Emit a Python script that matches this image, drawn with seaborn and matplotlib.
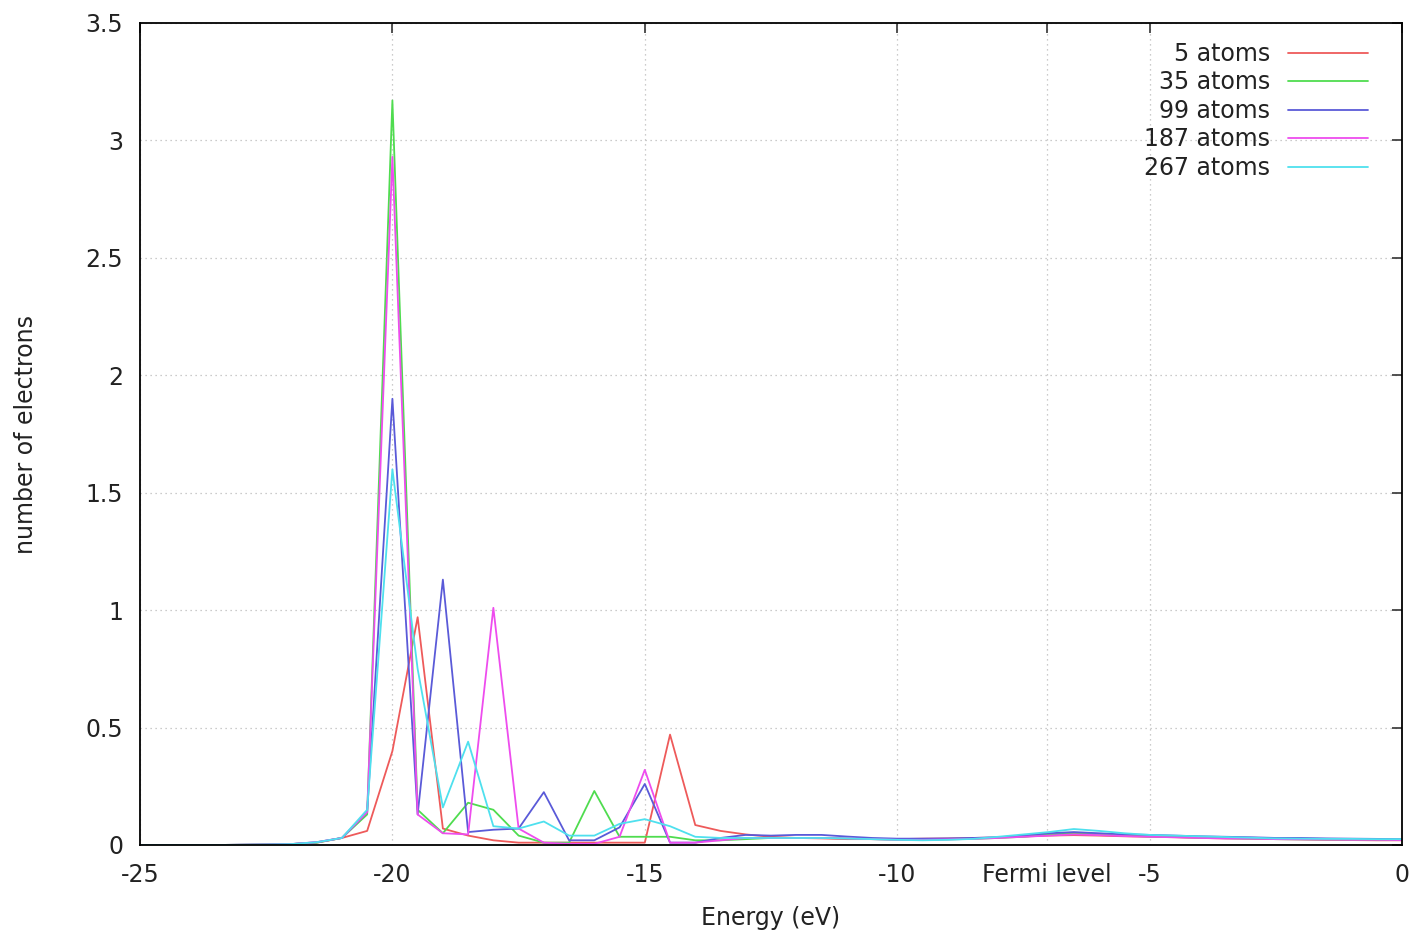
import numpy as np
import pandas as pd
import matplotlib
matplotlib.use("Agg")
import matplotlib.pyplot as plt
import seaborn as sns

# Energy grid (eV), 0.5 eV steps from -25 to 0
energy = np.arange(-25.0, 0.01, 0.5)

atoms5 = [0, 0, 0, 0, 0.001, 0.002, 0.004, 0.01, 0.03, 0.06,
          0.40, 0.97, 0.07, 0.04, 0.02, 0.01, 0.01, 0.01, 0.01, 0.01,
          0.01, 0.47, 0.085, 0.06, 0.045, 0.035, 0.03, 0.028, 0.025, 0.025,
          0.025, 0.027, 0.028, 0.03, 0.032, 0.036, 0.04, 0.042, 0.04, 0.037,
          0.035, 0.033, 0.03, 0.028, 0.027, 0.025, 0.024, 0.022, 0.021, 0.02,
          0.02]

atoms35 = [0, 0, 0, 0, 0.001, 0.002, 0.004, 0.01, 0.03, 0.13,
           3.17, 0.15, 0.05, 0.18, 0.15, 0.04, 0.01, 0.01, 0.23, 0.035,
           0.035, 0.035, 0.02, 0.02, 0.025, 0.03, 0.03, 0.03, 0.028, 0.025,
           0.022, 0.022, 0.024, 0.026, 0.03, 0.035, 0.045, 0.05, 0.045, 0.04,
           0.036, 0.034, 0.031, 0.029, 0.027, 0.025, 0.024, 0.023, 0.022, 0.022,
           0.021]

atoms99 = [0, 0, 0, 0, 0.001, 0.002, 0.004, 0.012, 0.03, 0.14,
           1.90, 0.13, 1.13, 0.055, 0.065, 0.07, 0.225, 0.02, 0.02, 0.075,
           0.26, 0.01, 0.01, 0.03, 0.043, 0.04, 0.043, 0.043, 0.036, 0.03,
           0.027, 0.027, 0.028, 0.03, 0.033, 0.04, 0.05, 0.055, 0.05, 0.045,
           0.043, 0.04, 0.037, 0.035, 0.033, 0.03, 0.03, 0.028, 0.027, 0.026,
           0.025]

atoms187 = [0, 0, 0, 0, 0.001, 0.002, 0.004, 0.012, 0.03, 0.14,
            2.93, 0.13, 0.05, 0.045, 1.01, 0.07, 0.01, 0.005, 0.005, 0.035,
            0.32, 0.01, 0.01, 0.02, 0.03, 0.03, 0.03, 0.03, 0.028, 0.025,
            0.022, 0.022, 0.024, 0.026, 0.03, 0.035, 0.04, 0.045, 0.042, 0.038,
            0.035, 0.033, 0.03, 0.028, 0.027, 0.025, 0.024, 0.023, 0.022, 0.022,
            0.021]

atoms267 = [0, 0, 0, 0, 0.001, 0.002, 0.004, 0.012, 0.03, 0.15,
            1.60, 0.75, 0.16, 0.44, 0.08, 0.07, 0.10, 0.04, 0.04, 0.09,
            0.11, 0.08, 0.035, 0.03, 0.03, 0.03, 0.03, 0.03, 0.028, 0.025,
            0.022, 0.02, 0.022, 0.026, 0.035, 0.045, 0.055, 0.068, 0.06, 0.05,
            0.043, 0.04, 0.037, 0.034, 0.031, 0.028, 0.027, 0.026, 0.026, 0.025,
            0.025]

series_labels = ["5 atoms", "35 atoms", "99 atoms", "187 atoms", "267 atoms"]
series_values = [atoms5, atoms35, atoms99, atoms187, atoms267]
colors = ["#ee5a5a", "#4fdc4f", "#5a5ad8", "#ee4cee", "#4ee0ee"]

xtick_values = [-25, -20, -15, -10, -7.04, -5, 0]
xtick_labels = ["-25", "-20", "-15", "-10", "Fermi level", "-5", "0"]
ytick_values = [0, 0.5, 1, 1.5, 2, 2.5, 3, 3.5]
ytick_labels = ["0", "0.5", "1", "1.5", "2", "2.5", "3", "3.5"]

frames = []
for lab, vals in zip(series_labels, series_values):
    n = min(len(vals), len(energy))
    frames.append(pd.DataFrame({"Energy": energy[:n], "value": vals[:n], "series": lab}))
df = pd.concat(frames, ignore_index=True)

sns.set_style("white")
plt.rcParams["font.family"] = ["DejaVu Sans"]
plt.rcParams["axes.unicode_minus"] = False

fig = plt.figure(figsize=(14.16, 9.34), dpi=100)
ax = fig.add_axes([140 / 1416, 1 - 845 / 934, (1402 - 140) / 1416, (845 - 23) / 934])

sns.lineplot(data=df, x="Energy", y="value", hue="series", hue_order=series_labels,
             palette=colors, linewidth=1.3, ax=ax, legend=True, sort=False)

ax.set_xlim(-25, 0)
ax.set_ylim(0, 3.5)
ax.set_xticks(xtick_values)
ax.set_xticklabels(xtick_labels)
ax.set_yticks(ytick_values)
ax.set_yticklabels(ytick_labels)

ax.grid(True, which="major", color="#bbbbbb", linestyle=(0, (1, 3)), linewidth=0.9)
ax.set_axisbelow(True)

for sp in ax.spines.values():
    sp.set_color("black")
    sp.set_linewidth(1.3)

ax.tick_params(axis="both", direction="in", length=7, width=1.2, color="#333333",
               labelsize=17, top=True, right=True, labelcolor="#222222")
ax.tick_params(axis="y", pad=12)
ax.tick_params(axis="x", pad=13)

ax.set_xlabel("Energy (eV)", fontsize=17, color="#222222", labelpad=14)
ax.set_ylabel("number of electrons", fontsize=17, color="#222222", labelpad=34)

handles, labels = ax.get_legend_handles_labels()
leg = ax.legend(handles, labels, loc="upper right", bbox_to_anchor=(0.986, 0.997),
                frameon=False, markerfirst=False, fontsize=17, handlelength=3.4,
                labelspacing=0.19, handletextpad=0.75, borderaxespad=0.3)
for t in leg.get_texts():
    t.set_color("#222222")

fig.savefig("out.png", dpi=100)
